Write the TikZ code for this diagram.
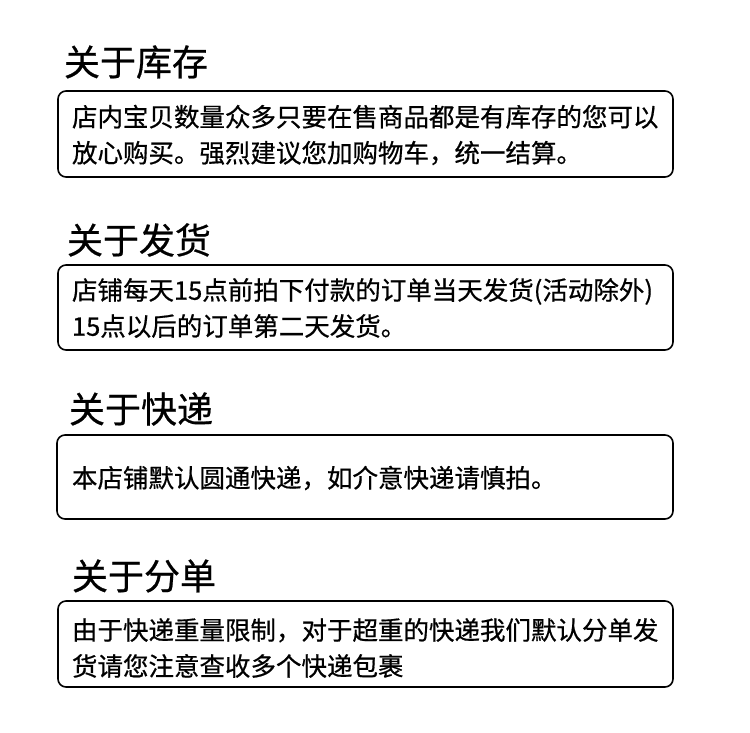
\documentclass[tikz,border=0pt]{standalone}
\usepackage{fontspec}
\setmainfont[FakeBold=0.6]{Noto Sans CJK SC}
\usetikzlibrary{positioning}

\begin{document}
\begin{tikzpicture}[x=1pt, y=-1pt, every node/.style={inner sep=0pt, outer sep=0pt}, heading/.style={anchor=west, font=\fontsize{36}{40}\selectfont}, panel/.style={draw, line width=1.6pt, rounded corners=8pt}, body/.style={anchor=west, align=left, font=\fontsize{25.5}{36}\selectfont}]
  \useasboundingbox (0,0) rectangle (750,732);
  % about stock
  \node[heading] (stocktitle) at (64,62) {关于库存};
  \draw[panel] (58,91) rectangle (673,177);
  \node[body] (stocktext) at (72,135) {店内宝贝数量众多只要在售商品都是有库存的您可以\\放心购买。强烈建议您加购物车，统一结算。};
  % about shipping
  \node[heading] (shiptitle) at (67,240) {关于发货};
  \draw[panel] (58,265) rectangle (673,350);
  \node[body] (shiptext) at (72,308) {店铺每天15点前拍下付款的订单当天发货(活动除外)\\15点以后的订单第二天发货。};
  % about express
  \node[heading] (expresstitle) at (69,409) {关于快递};
  \draw[panel] (57,435) rectangle (673,519);
  \node[body] (expresstext) at (72,478) {本店铺默认圆通快递，如介意快递请慎拍。};
  % about split orders
  \node[heading] (splittitle) at (72,576) {关于分单};
  \draw[panel] (58,601) rectangle (673,687);
  \node[body] (splittext) at (72,648) {由于快递重量限制，对于超重的快递我们默认分单发\\货请您注意查收多个快递包裹};
\end{tikzpicture}
\end{document}
